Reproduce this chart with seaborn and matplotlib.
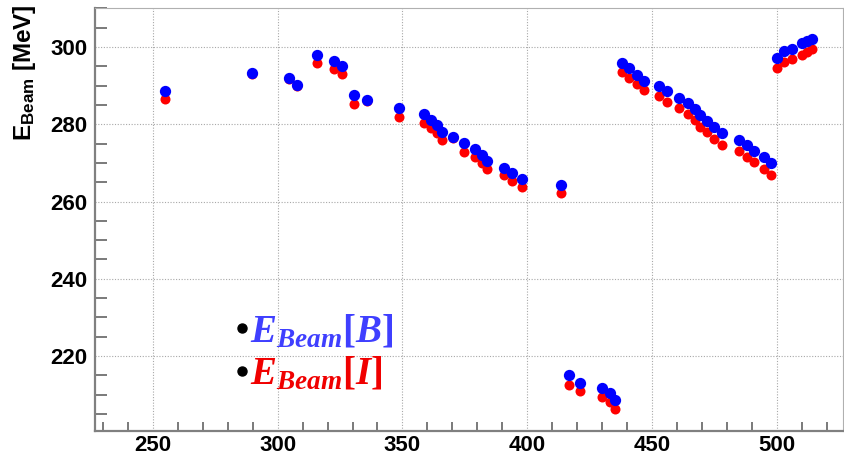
import matplotlib
matplotlib.use("Agg")
import matplotlib.pyplot as plt
import seaborn as sns
import pandas as pd
from matplotlib.ticker import MultipleLocator

# ---- data ----
x_vals = [254.7, 289.6, 304.6, 307.6, 315.6, 322.7, 325.8, 330.6, 335.8, 348.8,
          358.8, 361.5, 364.0, 366.0, 370.2, 374.8, 379.0, 382.0, 383.9, 390.7,
          394.0, 397.8, 413.5, 416.9, 421.1, 429.9, 433.2, 435.2, 438.2, 441.0,
          443.9, 447.0, 453.0, 456.2, 460.9, 464.3, 467.1, 469.2, 472.1, 474.9,
          477.9, 485.1, 488.0, 490.8, 494.8, 497.6, 500.0, 503.0, 506.3, 510.2,
          512.1, 514.1]
e_beam_B = [288.7, 293.4, 292.1, 290.2, 297.9, 296.5, 295.2, 287.6, 286.2, 284.3,
            282.7, 281.2, 279.9, 278.1, 276.7, 275.1, 273.7, 272.0, 270.6, 268.8,
            267.5, 265.9, 264.4, 215.2, 213.1, 211.8, 210.4, 208.7, 295.8, 294.5,
            292.8, 291.3, 289.9, 288.5, 286.9, 285.4, 284.0, 282.5, 280.9, 279.3,
            277.8, 275.9, 274.7, 273.0, 271.4, 269.9, 297.2, 298.9, 299.5, 301.0,
            301.6, 302.2]
e_beam_I = [286.6, 293.1, 291.8, 289.9, 295.9, 294.4, 293.1, 285.3, 285.9, 282.0,
            280.4, 279.0, 277.8, 276.0, 276.4, 272.9, 271.5, 269.9, 268.4, 266.8,
            265.2, 263.7, 262.2, 212.6, 211.0, 209.5, 208.0, 206.4, 293.5, 292.1,
            290.4, 288.9, 287.3, 285.8, 284.3, 282.7, 281.1, 279.4, 277.9, 276.3,
            274.7, 273.2, 271.6, 270.2, 268.5, 266.9, 294.6, 296.2, 296.8, 297.9,
            298.6, 299.5]
x_ticks = [250, 300, 350, 400, 450, 500]
y_ticks = [220, 240, 260, 280, 300]

df_B = pd.DataFrame({"x": x_vals, "E": e_beam_B})
df_I = pd.DataFrame({"x": x_vals, "E": e_beam_I})

sns.set_theme(style="white")
plt.rcParams["font.family"] = ["Liberation Sans", "DejaVu Sans"]
plt.rcParams["mathtext.fontset"] = "custom"
plt.rcParams["mathtext.sf"] = "Liberation Sans:bold"
plt.rcParams["mathtext.rm"] = "Liberation Serif:bold"
plt.rcParams["mathtext.it"] = "Liberation Serif:italic:bold"

fig = plt.figure(figsize=(8.45, 4.58), dpi=100)
ax = fig.add_axes([94.6 / 845, 1 - 431 / 458, (843 - 94.6) / 845, (431 - 8) / 458])

sns.scatterplot(data=df_I, x="x", y="E", color="#ff0000", s=52, linewidth=0,
                ax=ax, zorder=3)
sns.scatterplot(data=df_B, x="x", y="E", color="#0000ff", s=66, linewidth=0,
                ax=ax, zorder=4)

ax.set_xlim(226.6, 526.6)
ax.set_ylim(200.6, 310.1)
ax.set_xticks(x_ticks)
ax.set_yticks(y_ticks)
ax.xaxis.set_minor_locator(MultipleLocator(10))
ax.yaxis.set_minor_locator(MultipleLocator(5))
ax.set_xlabel("")
ax.set_ylabel("")

ax.grid(True, which="major", linestyle=(0, (1, 1.5)), color="#a8a8a8", linewidth=0.8)
ax.set_axisbelow(True)

for side in ["left", "bottom"]:
    ax.spines[side].set_color("#808080")
    ax.spines[side].set_linewidth(1.6)
for side in ["top", "right"]:
    ax.spines[side].set_color("#b0b0b0")
    ax.spines[side].set_linewidth(0.8)

ax.tick_params(axis="y", which="major", direction="in", length=16.5, width=1.3,
               color="#707070", pad=5, labelsize=16, labelcolor="black")
ax.tick_params(axis="y", which="minor", direction="in", length=8.5, width=1.3,
               color="#707070", left=True)
ax.tick_params(axis="x", which="major", direction="in", length=12.5, width=1.3,
               color="#707070", pad=3, labelsize=16, labelcolor="black")
ax.tick_params(axis="x", which="minor", direction="in", length=6.5, width=1.3,
               color="#707070", bottom=True)
for lab in ax.get_xticklabels() + ax.get_yticklabels():
    lab.set_fontweight("bold")

fig.text(25 / 845, 1 - 4 / 458, r"$\mathsf{E_{Beam}}$ [MeV]", rotation=90,
         ha="center", va="top", fontsize=17.5, fontweight="bold", color="black")

# legend-like annotation
ax.plot([0.197], [0.2435], "o", color="black", ms=6.5, transform=ax.transAxes,
        clip_on=False, zorder=5)
ax.plot([0.197], [0.1418], "o", color="black", ms=6.5, transform=ax.transAxes,
        clip_on=False, zorder=5)
ax.text(0.2077, 0.236, r"$E_{Beam}[B]$", color="#3f3fff", fontsize=28,
        transform=ax.transAxes, ha="left", va="center", zorder=5)
ax.text(0.2077, 0.136, r"$E_{Beam}[I]$", color="#f00000", fontsize=28,
        transform=ax.transAxes, ha="left", va="center", zorder=5)

fig.savefig("out.png", dpi=100)
